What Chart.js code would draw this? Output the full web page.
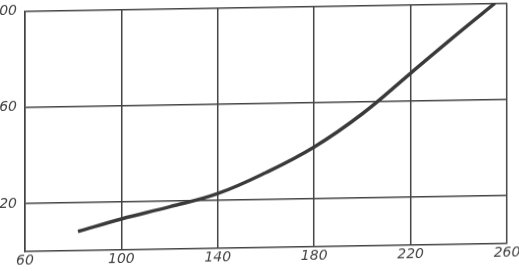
<!DOCTYPE html>
<html>
<head>
<meta charset="utf-8">
<script src="https://cdn.jsdelivr.net/npm/chart.js@4.4.0/dist/chart.umd.min.js"></script>
<style>
    html, body { margin: 0; padding: 0; background: #fff; }
    #wrap { width: 519px; height: 271px; overflow: hidden; }
    /* the scanned original is slightly tilted (lines rise to the right) */
    #curveChart { transform: skewY(-0.95deg); transform-origin: 0 0; }
</style>
</head>
<body>
<div id="wrap"><canvas id="curveChart" width="519" height="271"></canvas></div>
<script>
// values
var xValues = [82, 100, 120, 140, 160, 180, 200, 220, 240, 255];
var yValues = [8, 12.9, 17.6, 22.8, 31.2, 41.5, 55, 71.5, 88, 100];

var xTicks = [60, 100, 140, 180, 220, 260];
var yTicks = [20, 60, 100];

document.addEventListener("DOMContentLoaded", function() {
    var ctx = document.getElementById('curveChart').getContext('2d');

    var points = xValues.map(function(x, i) {
        return { x: x, y: yValues[i] };
    });

    var lineColor = '#3a3a3a';
    var labelFont = { family: 'DejaVu Sans', size: 14, style: 'italic' };

    new Chart(ctx, {
        type: 'line',
        data: {
            datasets: [{
                data: points,
                borderColor: lineColor,
                borderWidth: 3.5,
                borderCapStyle: 'butt',
                pointRadius: 0,
                fill: false,
                tension: 0.4
            }]
        },
        options: {
            responsive: false,
            animation: false,
            layout: { padding: { top: 11.5, right: 12, left: 0, bottom: 0 } },
            plugins: {
                legend: { display: false },
                tooltip: { enabled: false }
            },
            scales: {
                x: {
                    type: 'linear',
                    min: xTicks[0],
                    max: xTicks[xTicks.length - 1],
                    afterBuildTicks: function(scale) {
                        scale.ticks = xTicks.map(function(v) { return { value: v }; });
                    },
                    afterFit: function(scale) {
                        scale.height = 19;
                        scale.paddingLeft = 0;
                        scale.paddingRight = 0;
                    },
                    grid: { color: '#444', lineWidth: 1.5, drawTicks: false },
                    border: { color: '#444', width: 1.5 },
                    ticks: { color: '#444', font: labelFont, padding: 1, maxRotation: 0 }
                },
                y: {
                    min: 0,
                    max: 100,
                    afterBuildTicks: function(scale) {
                        scale.ticks = yTicks.map(function(v) { return { value: v }; });
                    },
                    afterFit: function(scale) {
                        scale.width = 25;
                        scale.paddingTop = 0;
                        scale.paddingBottom = 0;
                    },
                    grid: { color: '#444', lineWidth: 1.5, drawTicks: false },
                    border: { color: '#444', width: 1.5 },
                    ticks: { color: '#444', font: labelFont, padding: 8 }
                }
            }
        }
    });
});
</script>
</body>
</html>
